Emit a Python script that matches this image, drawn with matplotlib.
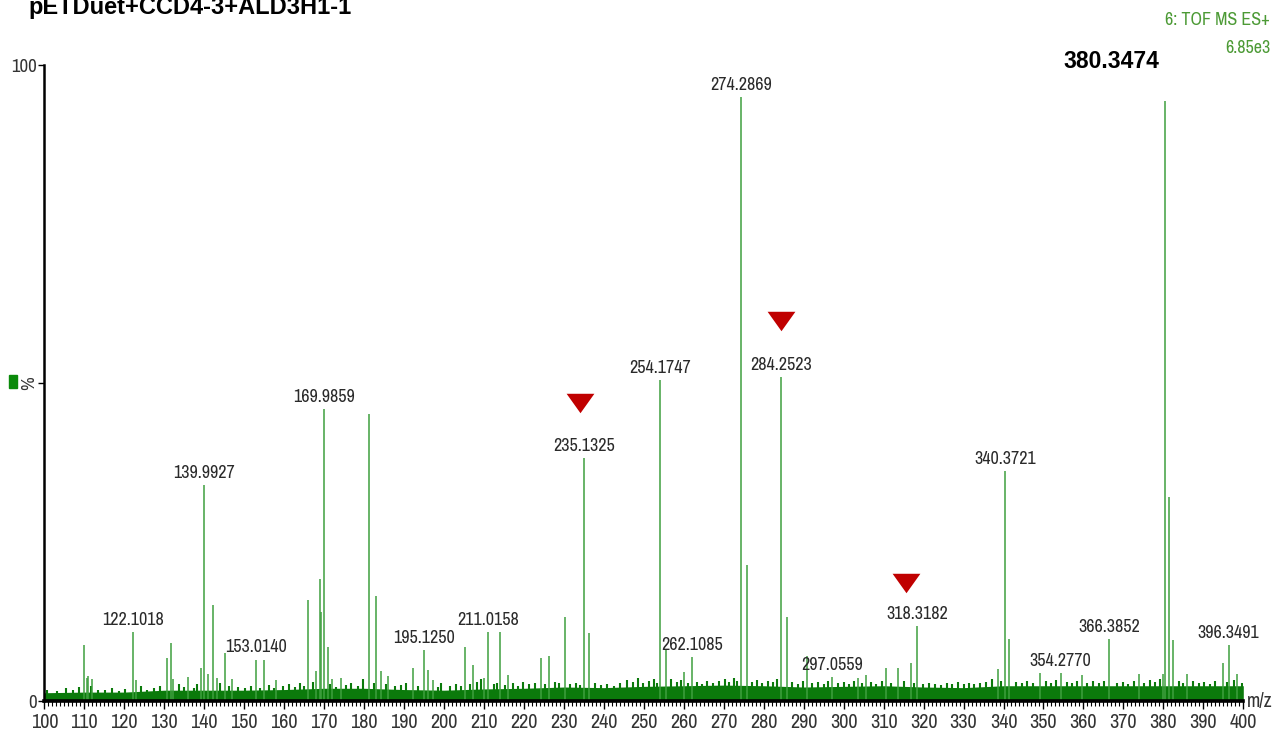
import matplotlib
matplotlib.use("Agg")
import matplotlib.pyplot as plt
from matplotlib import font_manager
from matplotlib.patches import Rectangle
from matplotlib.ticker import MultipleLocator

# ---------------- data ----------------
lab_mz = [122.1018, 139.9927, 153.0140, 169.9859, 195.1250, 211.0158, 235.1325,
          254.1747, 262.1085, 274.2869, 284.2523, 297.0559, 318.3182, 340.3721,
          354.2770, 366.3852, 396.3491]
lab_h = [10.9, 33.9, 6.5, 45.9, 8.0, 10.9, 38.2,
         50.5, 6.9, 95.0, 50.9, 3.8, 11.8, 36.2,
         4.4, 9.8, 8.8]
base_mz = 380.3474
base_h = 100.0

peak_mz = [110.0, 110.6, 111.0, 112.0, 123.0, 130.7, 131.6, 132.3, 136.0, 139.1,
           141.0, 142.1, 143.2, 145.1, 147.0, 155.0, 158.0, 166.1, 168.0, 168.9,
           169.3, 170.9, 172.0, 174.2, 181.2, 183.1, 184.3, 186.1, 192.3, 196.1,
           197.2, 205.2, 207.2, 210.0, 214.1, 216.0, 224.3, 226.4, 230.3, 236.4,
           255.6, 260.1, 275.7, 285.8, 290.9, 303.6, 305.5, 310.7, 313.6, 316.8,
           338.7, 341.4, 349.2, 359.6, 373.8, 380.0, 381.4, 382.4, 386.0, 394.9,
           398.3]
peak_h = [8.8, 3.6, 4.0, 3.5, 3.3, 6.8, 9.1, 3.5, 3.8, 5.2,
          4.3, 15.1, 3.6, 7.5, 3.4, 6.5, 3.3, 15.9, 4.7, 19.2,
          14.0, 8.5, 3.4, 3.6, 45.1, 16.5, 4.7, 3.9, 5.2, 4.9,
          3.3, 8.5, 5.7, 3.6, 10.9, 4.1, 6.8, 7.0, 13.2, 10.7,
          8.2, 4.6, 21.4, 13.2, 7.1, 3.6, 4.1, 5.2, 5.2, 6.0,
          5.0, 9.8, 4.4, 4.1, 4.2, 4.2, 32.0, 9.6, 4.2, 6.0,
          4.3]

noise_mz = [100, 110, 120, 130, 140, 150, 160, 170, 180, 190, 200, 210, 220, 230, 240,
            250, 260, 270, 280, 290, 300, 310, 320, 330, 340, 350, 360, 370, 380, 390, 400]
noise_lv = [1.3, 1.4, 1.4, 1.7, 1.7, 1.7, 1.8, 2.0, 2.0, 1.8, 1.7, 1.9, 2.0, 2.2, 2.1,
            2.3, 2.4, 2.5, 2.4, 2.2, 2.3, 2.4, 2.2, 2.1, 2.4, 2.4, 2.4, 2.4, 2.4, 2.4, 2.4]

grass_mz = [100.8, 103.2, 105.5, 107.1, 108.6, 111.8, 113.5, 115.2, 117.0, 118.8, 120.3,
            124.1, 125.6, 127.4, 128.9, 133.6, 135.0, 137.4, 138.2, 144.0, 146.3, 148.5,
            150.1, 151.6, 154.0, 156.3, 157.5, 159.6, 161.2, 162.8, 164.1, 165.0, 167.2,
            171.6, 173.0, 175.4, 176.8, 178.5, 179.7, 182.4, 185.5, 187.8, 189.2, 190.6,
            193.5, 198.4, 199.2, 201.5, 202.9, 204.3, 206.4, 208.3, 209.3, 212.6, 213.3,
            215.2, 217.3, 218.6, 219.8, 221.3, 222.8, 225.4, 227.7, 228.9, 231.6, 233.0,
            234.1, 237.9, 239.3, 240.9, 242.6, 244.0, 245.8, 247.2, 248.5, 249.8, 251.3,
            252.6, 253.4, 256.8, 258.2, 259.3, 261.0, 263.4, 264.6, 265.9, 267.4, 268.8,
            270.2, 271.4, 272.6, 273.4, 277.0, 278.3, 279.6, 281.0, 282.4, 283.3, 287.2,
            288.5, 289.8, 292.2, 293.6, 295.0, 296.0, 298.6, 300.0, 301.4, 302.6, 304.6,
            306.8, 308.2, 309.5, 311.9, 315.0, 317.6, 319.8, 321.3, 322.9, 324.4, 325.8,
            327.2, 328.6, 330.0, 331.3, 332.7, 334.2, 335.6, 337.0, 339.4, 343.1, 344.6,
            346.0, 347.4, 350.6, 352.0, 353.2, 355.8, 357.2, 358.4, 361.0, 362.4, 363.8,
            365.2, 368.4, 369.8, 371.2, 372.6, 375.2, 376.6, 378.0, 379.2, 383.8, 385.0,
            387.4, 388.8, 390.2, 391.6, 393.0, 395.8, 397.6, 399.6]
grass_h = [1.8, 1.6, 2.0, 1.7, 2.2, 2.4, 1.8, 1.7, 2.0, 1.6, 1.9,
           2.3, 1.8, 2.1, 2.4, 2.6, 2.2, 2.0, 2.6, 2.8, 2.4, 2.2,
           2.0, 2.3, 2.1, 2.5, 2.0, 2.3, 2.6, 2.2, 2.9, 2.4, 3.0,
           2.6, 2.2, 2.5, 2.8, 2.4, 3.4, 2.8, 2.6, 2.3, 2.5, 2.9,
           2.4, 2.2, 2.9, 2.3, 2.6, 2.4, 2.6, 3.0, 3.5, 2.7, 2.9,
           2.5, 2.8, 2.4, 3.0, 2.6, 2.9, 2.7, 3.0, 2.8, 2.6, 2.9,
           2.5, 2.8, 2.5, 2.7, 2.4, 2.9, 3.3, 3.0, 3.6, 2.8, 3.1,
           3.4, 2.9, 3.5, 3.0, 3.3, 2.8, 3.0, 2.7, 3.2, 2.9, 3.1,
           3.4, 3.0, 3.6, 3.2, 3.0, 3.3, 2.9, 3.2, 3.0, 3.5, 3.0,
           2.7, 3.1, 2.8, 3.0, 2.7, 3.2, 2.8, 3.0, 2.6, 3.1, 2.8,
           3.0, 2.7, 3.1, 2.8, 3.2, 2.9, 2.7, 2.9, 2.6, 2.5, 2.8,
           2.6, 3.0, 2.7, 2.9, 2.6, 2.8, 3.0, 3.4, 3.2, 3.0, 2.8,
           3.2, 2.9, 3.1, 2.8, 3.3, 3.0, 2.8, 3.2, 2.9, 3.1, 2.8,
           3.2, 2.9, 3.0, 2.7, 3.1, 2.9, 3.3, 3.0, 3.4, 3.1, 2.9,
           3.2, 2.8, 3.0, 2.7, 3.1, 3.0, 3.3, 2.9]

tri_mz = [234.0, 284.3, 315.6]
tri_y = [46.9, 59.7, 18.6]

x_ticks = list(range(100, 401, 10))
title = "pETDuet+CCD4-3+ALD3H1-1"

# ---------------- fonts ----------------
def find_narrow():
    cands = []
    for f in font_manager.fontManager.ttflist:
        nm = (f.name + " " + f.fname).lower()
        if f.style != 'normal' or f.weight not in (400, 'normal', 'regular'):
            continue
        if any(k in nm for k in ('narrow', 'condensed')) or f.stretch in ('condensed', 'semi-condensed', 'extra-condensed'):
            if 'mono' in nm or ('serif' in f.name.lower() and 'sans' not in f.name.lower()):
                continue
            prio = 0 if 'narrow' in nm else (1 if 'roboto' in nm else (2 if 'open' in nm else 3))
            cands.append((prio, f.fname))
    cands.sort()
    return cands[0][1] if cands else None

narrow_file = find_narrow()
if narrow_file:
    NF = lambda size: font_manager.FontProperties(fname=narrow_file, size=size)
else:
    NF = lambda size: font_manager.FontProperties(family='Liberation Sans', size=size * 0.88)
lab_size = 13

W, H = 1276, 740
fig = plt.figure(figsize=(W / 100, H / 100), dpi=100)
ax = fig.add_axes([44.3 / W, 1 - 701 / H, (1243.3 - 44.3) / W, (701 - 65) / H])
ax.set_xlim(100, 400)
ax.set_ylim(0, 100)

pk_col = '#3f9f3f'
grass_col = '#0b7a0b'

ax.fill_between(noise_mz, 0, noise_lv, color=grass_col, lw=0, zorder=2)
ax.vlines(grass_mz, 0, grass_h, color=grass_col, lw=1.5, zorder=2)
ax.vlines(peak_mz, 0, peak_h, color=pk_col, lw=1.1, zorder=3)
ax.vlines(lab_mz, 0, lab_h, color=pk_col, lw=1.1, zorder=3)
ax.vlines([base_mz], 0, [base_h], color=pk_col, lw=1.1, zorder=3)

for mz, h in zip(lab_mz, lab_h):
    ax.annotate(f"{mz:.4f}", (mz, h), xytext=(0, 3), textcoords='offset points',
                ha='center', va='bottom', fontproperties=NF(lab_size),
                color='#2a2a2a', zorder=5)

tri_marker = [(-1, 0.7), (1, 0.7), (0, -0.7), (-1, 0.7)]
ax.plot(tri_mz, tri_y, linestyle='none', marker=tri_marker, markersize=20,
        color='#c00000', markeredgewidth=0, zorder=6, clip_on=False)

for s in ['top', 'right']:
    ax.spines[s].set_visible(False)
ax.spines['left'].set_linewidth(1.8)
ax.spines['bottom'].set_linewidth(2.6)
ax.spines['bottom'].set_zorder(4)
ax.set_xticks(x_ticks)
ax.set_xticklabels([str(t) for t in x_ticks], fontproperties=NF(14.5), color='#333333')
ax.xaxis.set_minor_locator(MultipleLocator(1))
ax.tick_params(axis='x', which='major', length=6, width=1.0, direction='out', pad=3)
ax.tick_params(axis='x', which='minor', length=3.5, width=0.8, direction='out')
ax.set_yticks([0, 50, 100])
ax.set_yticklabels(['0', '%', '100'], fontproperties=NF(13.5), color='#333333')
ax.tick_params(axis='y', which='major', length=4, width=1.0, direction='out', pad=1)
ax.get_yticklabels()[1].set_rotation(90)
ax.get_yticklabels()[1].set_va('center')

ax.text(1.0138, 0.0, 'm/z', transform=ax.transAxes, ha='center', va='center',
        fontproperties=NF(14), color='#333333')

fig.patches.append(Rectangle((9 / W, 1 - 388 / H), 8 / W, 13 / H,
                             transform=fig.transFigure, color='#0a8a0a', zorder=1))

fig.patches.append(Rectangle((1040 / W, 1 - 101 / H), 165 / W, 71 / H,
                             transform=fig.transFigure, facecolor='white',
                             edgecolor='none', zorder=2))
fig.text(1111 / W, 1 - 62 / H, f"{base_mz:.4f}", ha='center', va='center',
         fontsize=16.5, fontweight='bold', family='Liberation Sans', color='black', zorder=3)

fig.text(28 / W, 1 - 14 / H, title, ha='left', va='baseline', fontsize=17,
         fontweight='bold', family='Liberation Sans', color='black')
fig.text(1270 / W, 1 - 20 / H, '6: TOF MS ES+', ha='right', va='center',
         fontproperties=NF(13), color='#4c9a35')
fig.text(1270 / W, 1 - 48 / H, '6.85e3', ha='right', va='center',
         fontproperties=NF(13), color='#4c9a35')

fig.savefig('out.png', dpi=100, facecolor='white')
